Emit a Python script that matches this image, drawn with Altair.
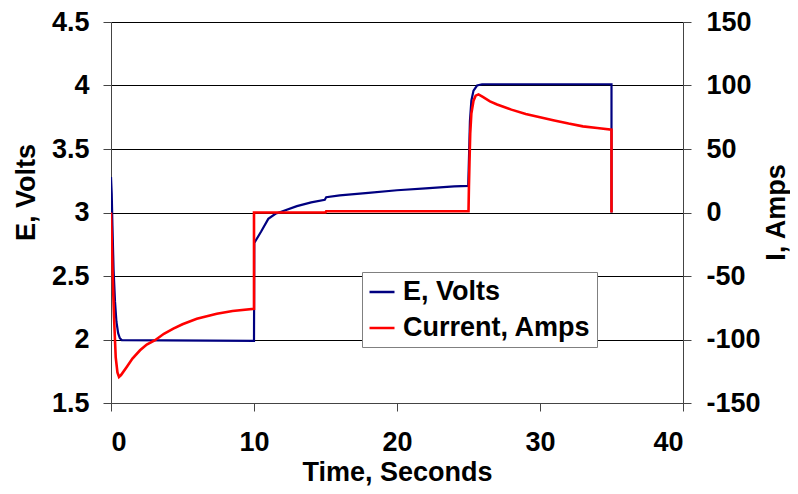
import altair as alt
import pandas as pd

# Voltage trace (left axis)
t_volts = [0.0, 0.05, 0.1, 0.18, 0.28, 0.38, 0.5, 0.62, 0.75, 10.0,
           10.02, 10.5, 11.0, 11.5, 12.0, 13.0, 14.0, 14.95, 15.05, 16.0,
           18.0, 20.0, 22.0, 24.0, 24.98, 25.05, 25.1, 25.2, 25.35, 25.6,
           25.95, 35.0, 35.0]
e_volts = [3.28, 3.15, 2.9, 2.55, 2.3, 2.14, 2.05, 2.01, 1.995, 1.99,
           2.76, 2.85, 2.95, 2.99, 3.01, 3.05, 3.08, 3.10, 3.12, 3.135,
           3.155, 3.175, 3.19, 3.205, 3.21, 3.5, 3.72, 3.88, 3.96, 4.0,
           4.01, 4.01, 3.0]

# Current trace (right axis)
t_amps = [0.0, 0.06, 0.12, 0.21, 0.33, 0.45, 0.56, 0.7, 1.1, 1.5,
          2.03, 2.5, 3.08, 3.7, 4.36, 5.0, 6.0, 7.4, 8.5, 10.0,
          10.0, 15.0, 15.05, 25.0, 25.03, 25.07, 25.12, 25.2, 25.35, 25.5,
          25.7, 26.0, 26.5, 27.0, 28.0, 29.0, 30.0, 31.0, 32.0, 33.0,
          34.0, 35.0, 35.0]
i_amps = [0.0, -25, -50, -82, -114, -126, -129.5, -128, -121.6, -115,
          -108.5, -104, -100.6, -95.5, -91.5, -88, -83.7, -79.8, -77.5, -75.8,
          0.0, 0.0, 1.0, 1.0, 20, 40, 62, 78, 88, 92,
          93, 91, 87.5, 85, 81, 77.5, 75, 72.5, 70, 67.8,
          66.5, 65.2, 0.0]

series_names = ["E, Volts", "Current, Amps"]
series_colors = ["#000080", "#FF0000"]

x_ticks = [0, 10, 20, 30, 40]
v_ticks = [1.5, 2.0, 2.5, 3.0, 3.5, 4.0, 4.5]
i_ticks = [-150, -100, -50, 0, 50, 100, 150]

FONT = "Liberation Sans"
FS = 27
PLAIN = "'' + datum.value"

df_v = pd.DataFrame({"t": t_volts, "v": e_volts, "order": range(len(t_volts)),
                     "series": series_names[0]})
df_i = pd.DataFrame({"t": t_amps, "i": i_amps, "order": range(len(t_amps)),
                     "series": series_names[1]})

color = alt.Color(
    "series:N",
    scale=alt.Scale(domain=series_names, range=series_colors),
    legend=alt.Legend(
        title=None, orient="none", legendX=251, legendY=250,
        symbolType="stroke", symbolSize=625, symbolStrokeWidth=2.5,
        labelFont=FONT, labelFontSize=FS, labelFontWeight="bold",
        labelColor="black", labelLimit=0, labelOffset=7,
        padding=6, rowPadding=9, strokeColor="#808080", fillColor="white",
    ),
)

x_enc = alt.X(
    "t:Q",
    scale=alt.Scale(domain=[0, 40], nice=False),
    axis=alt.Axis(
        values=x_ticks, grid=False, title="Time, Seconds", labelExpr=PLAIN,
        labelFont=FONT, labelFontSize=FS, labelFontWeight="bold", labelColor="black",
        labelPadding=18, tickSize=8, tickColor="#444", domainColor="#444",
        titleFont=FONT, titleFontSize=FS, titleFontWeight="bold", titleColor="black",
        titleY=77, titleBaseline="alphabetic",
    ),
)

line_v = alt.Chart(df_v).mark_line(strokeWidth=2.2, clip=True).encode(
    x=x_enc,
    y=alt.Y(
        "v:Q",
        scale=alt.Scale(domain=[1.5, 4.5], nice=False, zero=False),
        axis=alt.Axis(
            values=v_ticks, grid=True, gridColor="black", gridOpacity=1, gridWidth=1,
            title="E, Volts", orient="left", labelExpr=PLAIN,
            labelFont=FONT, labelFontSize=FS, labelFontWeight="bold", labelColor="black",
            labelPadding=14, tickSize=8, tickColor="#444", domainColor="#444",
            titleFont=FONT, titleFontSize=FS, titleFontWeight="bold", titleColor="black",
            titleX=-77, titleY=170, titleBaseline="alphabetic", titleAngle=270,
            titleAlign="center",
        ),
    ),
    color=color,
    order="order:Q",
)

line_i = alt.Chart(df_i).mark_line(strokeWidth=2.6, clip=True).encode(
    x=x_enc,
    y=alt.Y(
        "i:Q",
        scale=alt.Scale(domain=[-150, 150], nice=False, zero=False),
        axis=alt.Axis(
            values=i_ticks, grid=False, title="I, Amps", orient="right", labelExpr=PLAIN,
            labelFont=FONT, labelFontSize=FS, labelFontWeight="bold", labelColor="black",
            labelPadding=15, tickSize=8, tickColor="#444", domainColor="#444",
            titleFont=FONT, titleFontSize=FS, titleFontWeight="bold", titleColor="black",
            titleX=101, titleY=190, titleBaseline="alphabetic", titleAngle=270,
            titleAlign="center",
        ),
    ),
    color=color,
    order="order:Q",
)

chart = (
    alt.layer(line_v, line_i)
    .resolve_scale(y="independent")
    .properties(
        width=572, height=381,
        autosize=alt.AutoSizeParams(type="none"),
        padding={"left": 103, "top": 14, "right": 107, "bottom": 83},
        background="white",
    )
    .configure_view(stroke=None)
)

chart.save("out.html", embed_options={"renderer": "svg", "actions": False})
